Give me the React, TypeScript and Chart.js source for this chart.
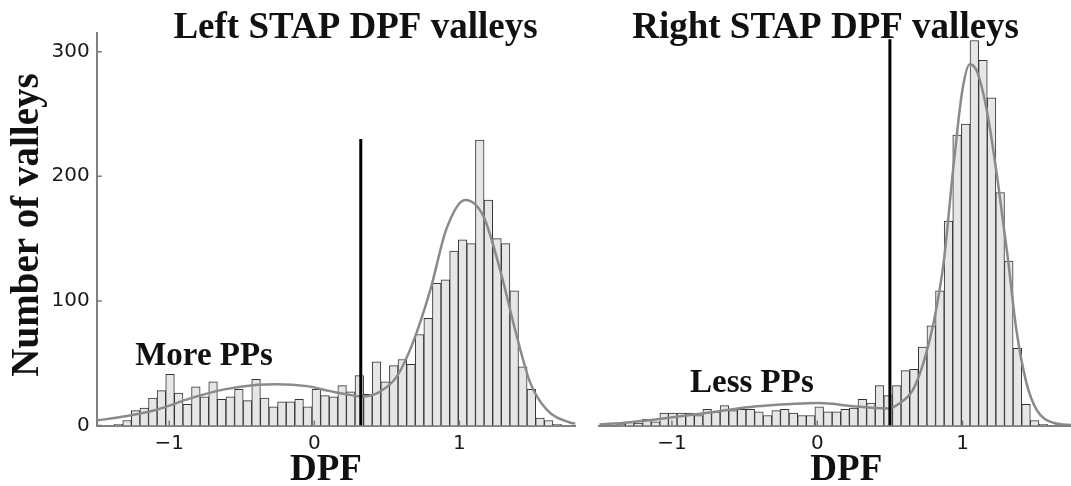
import React, { useEffect, useRef } from "react";
import { Chart, registerables } from "chart.js";

Chart.register(...registerables);

// Histogram bins shared by both panels
const binStart = -1.38;
const binWidth = 0.0593;

// Counts per bin, left hemisphere (52 bins)
const leftCounts = [
  1, 4, 12, 14, 22, 28, 41, 26, 17, 31, 23, 35, 21, 23, 29, 20, 37, 22, 15, 19,
  19, 21, 15, 29, 24, 23, 32, 27, 40, 25, 51, 35, 48, 53, 49, 73, 86, 114, 117, 140,
  149, 146, 229, 181, 150, 146, 108, 47, 29, 6, 4, 1,
];

// Counts per bin, right hemisphere (50 bins)
const rightCounts = [
  1, 3, 2, 5, 3, 10, 10, 10, 10, 8, 13, 11, 16, 12, 13, 13, 11, 8, 12, 13,
  10, 8, 8, 15, 11, 11, 13, 14, 21, 18, 32, 24, 32, 44, 45, 63, 80, 108, 164, 233,
  242, 309, 293, 263, 187, 132, 62, 17, 4, 1,
];

// Smoothed density curves (scaled to counts)
const leftCurveX = [-1.5, -1.3, -1.08, -0.85, -0.62, -0.39, -0.26, -0.05, 0.11, 0.2, 0.33, 0.45, 0.57, 0.68, 0.8, 0.91, 1.04, 1.165, 1.28, 1.395, 1.487, 1.6, 1.76, 1.8];
const leftCurveY = [4, 7.5, 12.9, 22, 29, 32.7, 33.2, 31.6, 27.6, 25.5, 23.3, 27, 39.6, 66.7, 109, 157.6, 181, 168, 125, 71.8, 34.6, 12.9, 2.4, 1.5];

const rightCurveX = [-1.5, -1.3, -1.1, -0.9, -0.7, -0.5, -0.3, -0.1, 0.0, 0.1, 0.2, 0.3, 0.4, 0.49, 0.57, 0.66, 0.73, 0.8, 0.87, 0.94, 1.0, 1.05, 1.1, 1.17, 1.24, 1.31, 1.37, 1.44, 1.51, 1.63, 1.74, 1.8];
const rightCurveY = [0.8, 2.5, 5, 8, 11, 14.5, 16.5, 17.7, 18, 17.5, 16, 15, 14, 13.7, 18, 29, 50, 82, 131, 211, 270, 290, 284, 251, 198, 136, 77, 34, 12.6, 2, 0.5, 0.3];

// Threshold lines
const leftCut = 0.32;
const leftCutTop = 230;
const rightCut = 0.5;
const rightCutTop = 310;

// Axes
const xTickValues = [-1, 0, 1];
const yTickValues = [0, 100, 200, 300];
const xMin = -1.5;
const xMax = 1.8;
const yMax = 315;

const SERIF = '"Liberation Serif", "Times New Roman", serif';
const SANS = '"DejaVu Sans", sans-serif';

type PanelProps = {
  counts: number[];
  curveX: number[];
  curveY: number[];
  cut: number;
  cutTop: number;
  showY: boolean;
  title: string;
  note: string;
  noteX: number;
  noteY: number;
  left: number;
  width: number;
  pad: { left: number; right: number };
  yAxisWidth: number;
  titleX: number;
  xLabelX: number;
};

function fmtTick(v: number) {
  return v < 0 ? "\u2212" + Math.abs(v) : String(v);
}

function Panel(p: PanelProps) {
  const ref = useRef<HTMLCanvasElement | null>(null);

  useEffect(() => {
    const canvas = ref.current;
    if (!canvas) return;

    const bars = p.counts.map((c, i) => ({ x: binStart + (i + 0.5) * binWidth, y: c }));
    const curve = p.curveX.map((x, i) => ({ x, y: p.curveY[i] }));
    const cutLine = [
      { x: p.cut, y: 0 },
      { x: p.cut, y: p.cutTop },
    ];

    const decor = {
      id: "decor",
      afterDraw(chart: any) {
        const { ctx, chartArea, scales } = chart;
        ctx.save();
        // inward tick marks
        ctx.strokeStyle = "#7a7a7a";
        ctx.lineWidth = 1.5;
        ctx.beginPath();
        for (const v of xTickValues) {
          const px = scales.x.getPixelForValue(v);
          ctx.moveTo(px, chartArea.bottom);
          ctx.lineTo(px, chartArea.bottom - 5);
        }
        if (p.showY) {
          for (const v of yTickValues) {
            const py = scales.y.getPixelForValue(v);
            ctx.moveTo(chartArea.left, py);
            ctx.lineTo(chartArea.left + 5, py);
          }
        }
        ctx.stroke();

        ctx.fillStyle = "#111";
        ctx.textAlign = "center";
        ctx.textBaseline = "alphabetic";
        ctx.font = `bold 37px ${SERIF}`;
        ctx.fillText(p.title, p.titleX, 38);
        ctx.fillText("DPF", p.xLabelX, 480);

        ctx.font = `bold 33px ${SERIF}`;
        ctx.fillText(
          p.note,
          scales.x.getPixelForValue(p.noteX),
          scales.y.getPixelForValue(p.noteY)
        );

        if (p.showY) {
          ctx.save();
          ctx.translate(28, 225);
          ctx.rotate(-Math.PI / 2);
          ctx.textBaseline = "middle";
          ctx.font = `bold 39px ${SERIF}`;
          ctx.fillText("Number of valleys", 0, 0);
          ctx.restore();
        }
        ctx.restore();
      },
    };

    const chart = new Chart(canvas, {
      type: "bar",
      data: {
        datasets: [
          {
            type: "bar",
            data: bars,
            backgroundColor: "#e6e6e6",
            borderColor: "#333333",
            borderWidth: 1,
            barPercentage: 1,
            categoryPercentage: 1,
            order: 3,
          } as any,
          {
            type: "line",
            data: curve,
            borderColor: "#8a8a8a",
            borderWidth: 2.5,
            pointRadius: 0,
            cubicInterpolationMode: "monotone",
            fill: false,
            order: 2,
          } as any,
          {
            type: "line",
            data: cutLine,
            borderColor: "#000000",
            borderWidth: 3,
            pointRadius: 0,
            fill: false,
            order: 1,
          } as any,
        ],
      },
      options: {
        animation: false,
        responsive: false,
        maintainAspectRatio: false,
        layout: { padding: { left: p.pad.left, right: p.pad.right, top: 33, bottom: 0 } },
        plugins: { legend: { display: false }, tooltip: { enabled: false } },
        scales: {
          x: {
            type: "linear",
            min: xMin,
            max: xMax,
            offset: false,
            grid: { display: false, drawTicks: false },
            border: { display: true, color: "#808080", width: 2 },
            afterBuildTicks: (s: any) => {
              s.ticks = xTickValues.map((v) => ({ value: v }));
            },
            afterFit: (s: any) => {
              s.height = 60.5;
            },
            ticks: {
              padding: 6.5,
              color: "#1a1a1a",
              font: { family: SANS, size: 20 },
              callback: (v: any) => fmtTick(Number(v)),
              maxRotation: 0,
            },
          },
          y: {
            type: "linear",
            display: p.showY,
            min: 0,
            max: yMax,
            grid: { display: false, drawTicks: false },
            border: { display: true, color: "#808080", width: 2 },
            afterBuildTicks: (s: any) => {
              s.ticks = yTickValues.map((v) => ({ value: v }));
            },
            afterFit: (s: any) => {
              s.width = p.yAxisWidth;
            },
            ticks: {
              padding: 7,
              color: "#1a1a1a",
              font: { family: SANS, size: 20 },
              callback: (v: any) => String(v),
            },
          },
        },
      },
      plugins: [decor],
    } as any);

    return () => chart.destroy();
  }, []);

  return (
    <canvas
      ref={ref}
      width={p.width}
      height={486}
      style={{ position: "absolute", left: p.left, top: 0, width: p.width, height: 486 }}
    />
  );
}

export default function App() {
  return (
    <div
      style={{
        position: "fixed",
        left: 0,
        top: 0,
        width: 1071,
        height: 486,
        overflow: "hidden",
        background: "#fff",
      }}
    >
      <Panel
        counts={leftCounts}
        curveX={leftCurveX}
        curveY={leftCurveY}
        cut={leftCut}
        cutTop={leftCutTop}
        showY={true}
        title="Left STAP DPF valleys"
        note="More PPs"
        noteX={-0.76}
        noteY={48.6}
        left={0}
        width={590}
        pad={{ left: 0, right: 14.5 }}
        yAxisWidth={96.7}
        titleX={355.5}
        xLabelX={326}
      />
      <Panel
        counts={rightCounts}
        curveX={rightCurveX}
        curveY={rightCurveY}
        cut={rightCut}
        cutTop={rightCutTop}
        showY={false}
        title="Right STAP DPF valleys"
        note="Less PPs"
        noteX={-0.45}
        noteY={27.2}
        left={590}
        width={520}
        pad={{ left: 9.3, right: 31.2 }}
        yAxisWidth={0}
        titleX={235.6}
        xLabelX={256.3}
      />
    </div>
  );
}
